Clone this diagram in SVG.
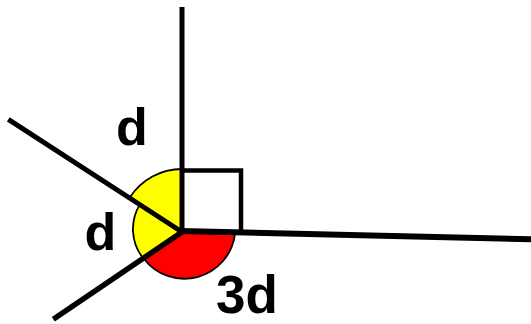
<svg xmlns="http://www.w3.org/2000/svg" width="531" height="324" viewBox="0 0 531 324">
<style>
.sector{stroke:#000;stroke-width:1.8;stroke-linejoin:round}
.ln{stroke:#000;fill:none;stroke-linecap:butt}
.lbl{font-family:"Liberation Sans",Arial,sans-serif;font-weight:bold;fill:#000}
</style>
<rect width="531" height="324" fill="#fff"/>
<g id="angle-upper">
<path class="sector" fill="#ffff00" d="M182,231 L182,169 A62,62 0 0 0 130,197.3 Z"/>
</g>
<g id="angle-lower">
<path class="sector" fill="#ffff00" d="M182,232 L139.8,204.6 A47,47 0 0 0 143.2,258.3 Z"/>
</g>
<g id="angle-3d">
<path class="sector" fill="#ff0000" d="M182,232 L143.5,258.2 A51,51 0 0 0 235,234 Z"/>
</g>
<g id="connectors">
<line class="ln" x1="182" y1="232" x2="182" y2="7" stroke-width="5"/>
<line class="ln" x1="182" y1="232" x2="8.3" y2="119.3" stroke-width="5"/>
<line class="ln" x1="182" y1="232" x2="53.3" y2="319.3" stroke-width="5.5"/>
<line class="ln" x1="180" y1="231" x2="531" y2="239.3" stroke-width="6"/>
</g>
<g id="right-angle">
<polyline class="ln" points="182,170.5 241,170.5 241,232" stroke-width="4.5"/>
</g>
<g id="labels">
<text class="lbl" x="116" y="145" font-size="52">d</text>
<text class="lbl" x="84.5" y="250" font-size="52">d</text>
<text class="lbl" x="216" y="312.5" font-size="53">3d</text>
</g>
</svg>
